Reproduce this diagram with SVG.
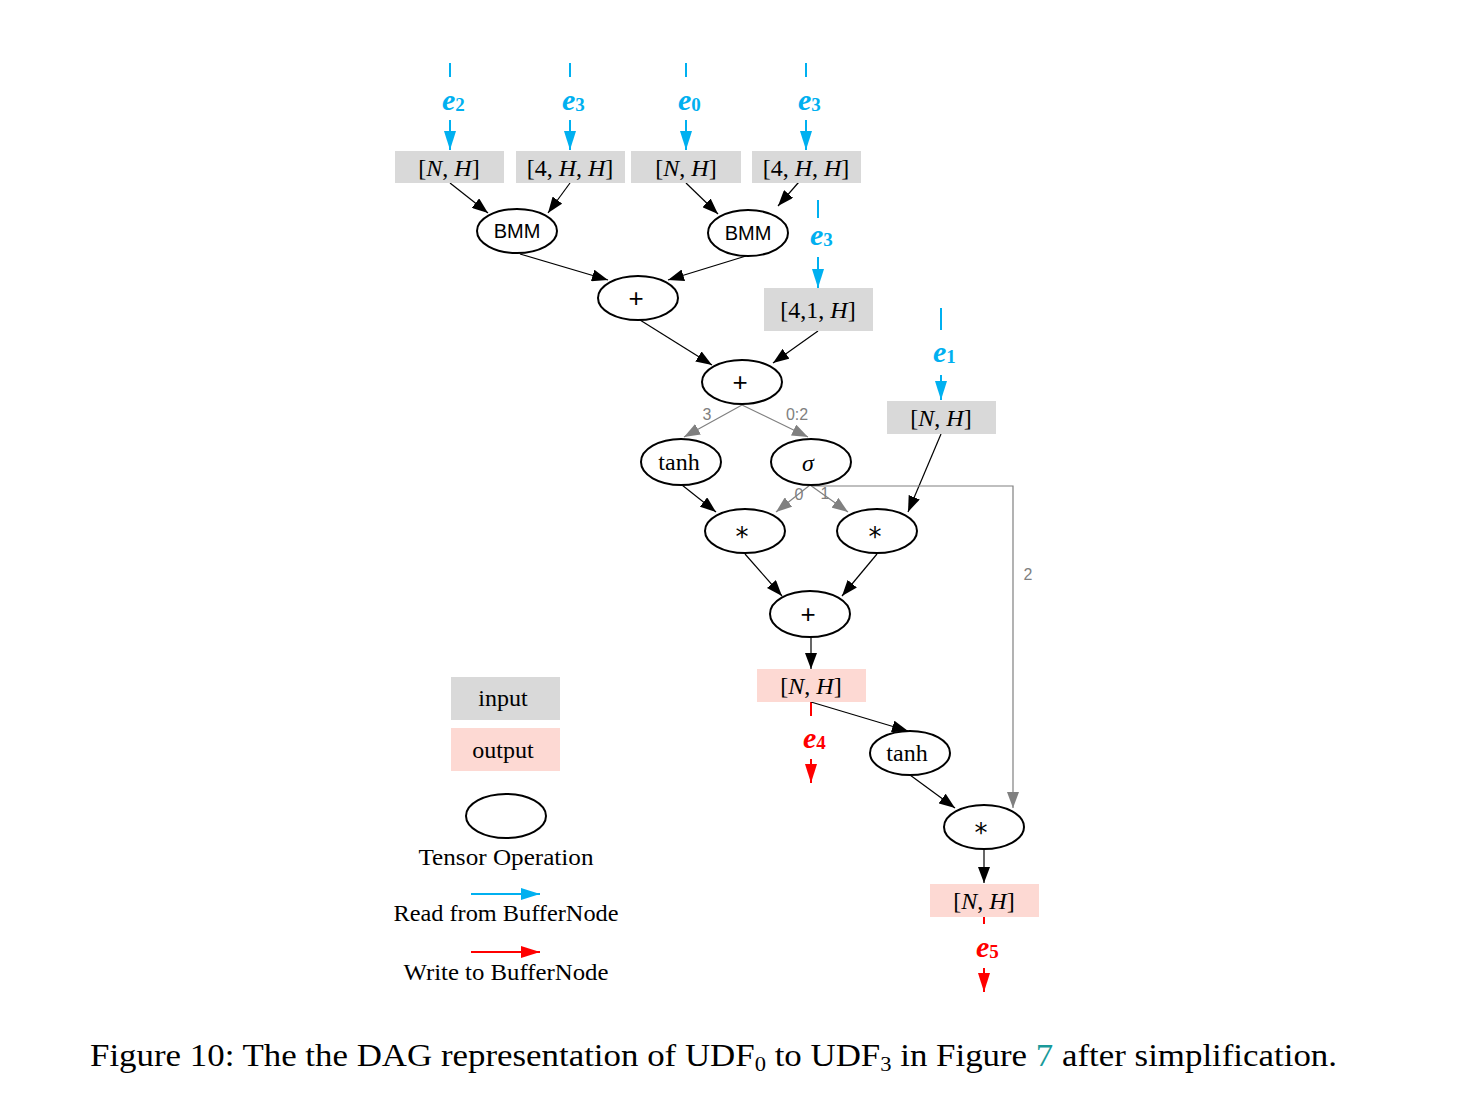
<svg xmlns="http://www.w3.org/2000/svg" width="1463" height="1113" viewBox="0 0 1463 1113">
<defs>
<marker id="ab" markerUnits="userSpaceOnUse" markerWidth="16" markerHeight="12" refX="16" refY="6" orient="auto"><path d="M0,0 L16,6 L0,12 z" fill="#000"/></marker>
<marker id="ag" markerUnits="userSpaceOnUse" markerWidth="16" markerHeight="12" refX="16" refY="6" orient="auto"><path d="M0,0 L16,6 L0,12 z" fill="#808080"/></marker>
<marker id="abl" markerUnits="userSpaceOnUse" markerWidth="19" markerHeight="12" refX="19" refY="6" orient="auto"><path d="M0,0 L19,6 L0,12 z" fill="#00b0f0"/></marker>
<marker id="ar" markerUnits="userSpaceOnUse" markerWidth="19" markerHeight="12" refX="19" refY="6" orient="auto"><path d="M0,0 L19,6 L0,12 z" fill="#ff0000"/></marker>
</defs>
<style>
.in{fill:#d9d9d9}
.out{fill:#fdd9d3}
.op{fill:#fff;stroke:#000;stroke-width:2}
.e{stroke:#000;stroke-width:1.2;fill:none;marker-end:url(#ab)}
.g{stroke:#808080;stroke-width:1.2;fill:none}
.ga{marker-end:url(#ag)}
.bl{stroke:#00b0f0;stroke-width:2;fill:none}
.rd{stroke:#ff0000;stroke-width:2;fill:none}
.t{font-family:"Liberation Serif",serif;font-size:24px;text-anchor:middle;fill:#000}
.s{font-family:"Liberation Sans",sans-serif;text-anchor:middle;fill:#000}
.ast{font-family:"DejaVu Sans",sans-serif;font-size:26px;text-anchor:middle;fill:#000}
.gl{font-family:"Liberation Sans",sans-serif;font-size:16px;text-anchor:middle;fill:#808080}
.eb{font-family:"Liberation Serif",serif;font-weight:bold;font-style:italic;font-size:30px;fill:#00b0f0}
.er{font-family:"Liberation Serif",serif;font-weight:bold;font-style:italic;font-size:30px;fill:#ff0000}
.sub{font-style:normal;font-weight:bold;font-size:19px}
.i{font-style:italic}
</style>
<rect width="1463" height="1113" fill="#fff"/>

<g id="reads">
<line class="bl" x1="450" y1="63" x2="450" y2="77"/><text class="eb" x="442" y="110">e<tspan class="sub" dy="1">2</tspan></text><line class="bl" x1="450" y1="120" x2="450" y2="150" marker-end="url(#abl)"/>
<line class="bl" x1="570" y1="63" x2="570" y2="77"/><text class="eb" x="562" y="110">e<tspan class="sub" dy="1">3</tspan></text><line class="bl" x1="570" y1="120" x2="570" y2="150" marker-end="url(#abl)"/>
<line class="bl" x1="686" y1="63" x2="686" y2="77"/><text class="eb" x="678" y="110">e<tspan class="sub" dy="1">0</tspan></text><line class="bl" x1="686" y1="120" x2="686" y2="150" marker-end="url(#abl)"/>
<line class="bl" x1="806" y1="63" x2="806" y2="77"/><text class="eb" x="798" y="110">e<tspan class="sub" dy="1">3</tspan></text><line class="bl" x1="806" y1="120" x2="806" y2="150" marker-end="url(#abl)"/>
<line class="bl" x1="818" y1="200" x2="818" y2="218"/><text class="eb" x="810" y="245">e<tspan class="sub" dy="1">3</tspan></text><line class="bl" x1="818" y1="257" x2="818" y2="288" marker-end="url(#abl)"/>
<line class="bl" x1="941" y1="308" x2="941" y2="330"/><text class="eb" x="933" y="362">e<tspan class="sub" dy="1">1</tspan></text><line class="bl" x1="941" y1="375" x2="941" y2="400" marker-end="url(#abl)"/>
</g>

<g id="writes">
<line class="rd" x1="811" y1="702" x2="811" y2="716"/><text class="er" x="803" y="748">e<tspan class="sub" dy="1">4</tspan></text><line class="rd" x1="811" y1="759" x2="811" y2="783" marker-end="url(#ar)"/>
<line class="rd" x1="984" y1="917" x2="984" y2="924"/><text class="er" x="976" y="957">e<tspan class="sub" dy="1">5</tspan></text><line class="rd" x1="984" y1="968" x2="984" y2="992" marker-end="url(#ar)"/>
</g>

<g id="connectors">
<line class="e" x1="450" y1="183" x2="488" y2="213"/>
<line class="e" x1="570" y1="183" x2="548" y2="213"/>
<line class="e" x1="686" y1="183" x2="718" y2="214"/>
<line class="e" x1="805" y1="175" x2="778" y2="206"/>
<line class="e" x1="520" y1="254" x2="608" y2="280"/>
<line class="e" x1="746" y1="256" x2="668" y2="280"/>
<line class="e" x1="640" y1="320" x2="712" y2="365"/>
<line class="e" x1="818" y1="331" x2="773" y2="363"/>
<line class="e" x1="682" y1="485" x2="716" y2="512"/>
<line class="e" x1="941" y1="434" x2="908" y2="512"/>
<line class="e" x1="745" y1="554" x2="782" y2="596"/>
<line class="e" x1="877" y1="554" x2="842" y2="596"/>
<line class="e" x1="811" y1="637" x2="811" y2="669"/>
<line class="e" x1="811" y1="702" x2="908" y2="731"/>
<line class="e" x1="910" y1="775" x2="955" y2="808"/>
<line class="e" x1="984" y1="850" x2="984" y2="883"/>
<line class="g ga" x1="742" y1="405" x2="684" y2="437"/>
<line class="g ga" x1="742" y1="405" x2="808" y2="437"/>
<line class="g ga" x1="810" y1="485" x2="776" y2="512"/>
<line class="g ga" x1="810" y1="485" x2="848" y2="512"/>
<polyline class="g ga" points="812,486 1013,486 1013,808"/>
<text class="gl" x="707" y="420">3</text>
<text class="gl" x="797" y="420">0:2</text>
<text class="gl" x="799" y="500">0</text>
<text class="gl" x="825" y="499">1</text>
<text class="gl" x="1028" y="580">2</text>
</g>

<g id="in1"><rect class="in" x="395" y="151" width="109" height="32"/><text class="t" x="449" y="176">[<tspan class="i">N</tspan>, <tspan class="i">H</tspan>]</text></g>
<g id="in2"><rect class="in" x="516" y="151" width="109" height="32"/><text class="t" x="570" y="176">[4, <tspan class="i">H</tspan>, <tspan class="i">H</tspan>]</text></g>
<g id="in3"><rect class="in" x="631" y="151" width="110" height="32"/><text class="t" x="686" y="176">[<tspan class="i">N</tspan>, <tspan class="i">H</tspan>]</text></g>
<g id="in4"><rect class="in" x="752" y="151" width="109" height="32"/><text class="t" x="806" y="176">[4, <tspan class="i">H</tspan>, <tspan class="i">H</tspan>]</text></g>
<g id="in5"><rect class="in" x="764" y="288" width="109" height="43"/><text class="t" x="818" y="318">[4,1, <tspan class="i">H</tspan>]</text></g>
<g id="in6"><rect class="in" x="887" y="401" width="109" height="33"/><text class="t" x="941" y="426">[<tspan class="i">N</tspan>, <tspan class="i">H</tspan>]</text></g>
<g id="out1"><rect class="out" x="757" y="669" width="109" height="33"/><text class="t" x="811" y="694">[<tspan class="i">N</tspan>, <tspan class="i">H</tspan>]</text></g>
<g id="out2"><rect class="out" x="930" y="884" width="109" height="33"/><text class="t" x="984" y="909">[<tspan class="i">N</tspan>, <tspan class="i">H</tspan>]</text></g>

<g id="bmm1"><ellipse class="op" cx="517" cy="231" rx="40" ry="22"/><text class="s" x="517" y="238" font-size="20">BMM</text></g>
<g id="bmm2"><ellipse class="op" cx="748" cy="233" rx="40" ry="23"/><text class="s" x="748" y="240" font-size="20">BMM</text></g>
<g id="plus1"><ellipse class="op" cx="638" cy="298" rx="40" ry="22"/><text class="s" x="636" y="307" font-size="26">+</text></g>
<g id="plus2"><ellipse class="op" cx="742" cy="382" rx="40" ry="22"/><text class="s" x="740" y="391" font-size="26">+</text></g>
<g id="tanh1"><ellipse class="op" cx="681" cy="462" rx="40" ry="23"/><text class="t" x="679" y="470" font-size="24">tanh</text></g>
<g id="sigma"><ellipse class="op" cx="811" cy="462" rx="40" ry="23"/><text class="t" x="808" y="471" font-size="27" font-style="italic">σ</text></g>
<g id="mul1"><ellipse class="op" cx="745" cy="531" rx="40" ry="22"/><text class="ast" x="742" y="546">*</text></g>
<g id="mul2"><ellipse class="op" cx="877" cy="531" rx="40" ry="22"/><text class="ast" x="875" y="546">*</text></g>
<g id="plus3"><ellipse class="op" cx="810" cy="614" rx="40" ry="23"/><text class="s" x="808" y="623" font-size="26">+</text></g>
<g id="tanh2"><ellipse class="op" cx="910" cy="753" rx="40" ry="22"/><text class="t" x="907" y="761" font-size="24">tanh</text></g>
<g id="mul3"><ellipse class="op" cx="984" cy="827" rx="40" ry="22"/><text class="ast" x="981" y="842">*</text></g>

<g id="legend">
<rect class="in" x="451" y="677" width="109" height="43"/><text class="t" x="503" y="706">input</text>
<rect class="out" x="451" y="728" width="109" height="43"/><text class="t" x="503" y="758">output</text>
<ellipse class="op" cx="506" cy="816" rx="40" ry="22"/>
<text class="t" x="506" y="865" textLength="175" lengthAdjust="spacingAndGlyphs">Tensor Operation</text>
<line x1="471" y1="894" x2="540" y2="894" stroke="#00b0f0" stroke-width="2" marker-end="url(#abl)"/>
<text class="t" x="506" y="921" textLength="225" lengthAdjust="spacingAndGlyphs">Read from BufferNode</text>
<line x1="471" y1="952" x2="540" y2="952" stroke="#ff0000" stroke-width="2" marker-end="url(#ar)"/>
<text class="t" x="506" y="980" textLength="205" lengthAdjust="spacingAndGlyphs">Write to BufferNode</text>
</g>

<text x="90" y="1066" font-family="Liberation Serif, serif" font-size="31" fill="#000" textLength="1247" lengthAdjust="spacingAndGlyphs">Figure 10: The the DAG representation of UDF<tspan font-size="20" dy="5">0</tspan><tspan dy="-5"> to UDF</tspan><tspan font-size="20" dy="5">3</tspan><tspan dy="-5"> in Figure </tspan><tspan fill="#1a9a9a">7</tspan> after simplification.</text>
</svg>
